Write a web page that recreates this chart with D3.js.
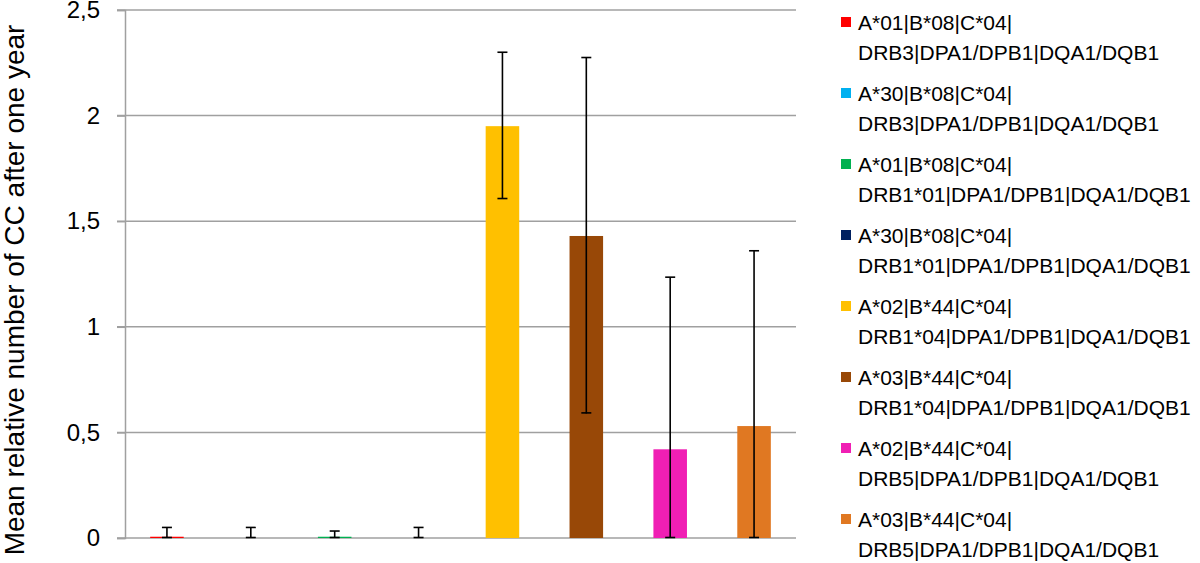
<!DOCTYPE html>
<html>
<head>
<meta charset="utf-8">
<script src="https://cdn.jsdelivr.net/npm/d3@7"></script>
<style>
  body { margin: 0; background: #fff; }
  svg { font-family: "Liberation Sans", Arial, sans-serif; }
</style>
</head>
<body>
<div id="chart"></div>
<script>
// chart data
var groups = [
  ["A*01|B*08|C*04|", "DRB3|DPA1/DPB1|DQA1/DQB1"],
  ["A*30|B*08|C*04|", "DRB3|DPA1/DPB1|DQA1/DQB1"],
  ["A*01|B*08|C*04|", "DRB1*01|DPA1/DPB1|DQA1/DQB1"],
  ["A*30|B*08|C*04|", "DRB1*01|DPA1/DPB1|DQA1/DQB1"],
  ["A*02|B*44|C*04|", "DRB1*04|DPA1/DPB1|DQA1/DQB1"],
  ["A*03|B*44|C*04|", "DRB1*04|DPA1/DPB1|DQA1/DQB1"],
  ["A*02|B*44|C*04|", "DRB5|DPA1/DPB1|DQA1/DQB1"],
  ["A*03|B*44|C*04|", "DRB5|DPA1/DPB1|DQA1/DQB1"]
];
var means = [0.006, 0, 0.006, 0, 1.95, 1.43, 0.42, 0.53];
var errUpper = [0.05, 0.05, 0.033, 0.05, 2.30, 2.275, 1.235, 1.36];
var errLower = [0, 0, 0, 0, 1.605, 0.59, 0, 0];
var colors = ["#ff0000", "#00b0f0", "#00b050", "#002060", "#ffc000", "#984807", "#f01fb4", "#e07822"];
var yTicks = [0, 0.5, 1, 1.5, 2, 2.5];
var yTitle = "Mean relative number of CC after one year";

var width = 1200, height = 563;
var svg = d3.select("#chart").append("svg")
    .attr("width", width)
    .attr("height", height);

var x = d3.scaleBand()
    .domain(d3.range(groups.length))
    .range([125, 796])
    .paddingInner(0.6)
    .paddingOuter(0.3);

var y = d3.scaleLinear()
    .domain([0, 2.5])
    .range([538, 10]);

var fmt = function (d) { return String(d).replace(".", ","); };

// gridlines
svg.append("g")
  .selectAll("line")
  .data(yTicks.filter(function (d) { return d > 0; }))
  .enter().append("line")
    .attr("x1", 117).attr("x2", 796)
    .attr("y1", function (d) { return y(d); })
    .attr("y2", function (d) { return y(d); })
    .attr("stroke", "#a0a0a0")
    .attr("stroke-width", 1.5);

// y axis
var yAxis = svg.append("g")
    .attr("transform", "translate(125,0)")
    .call(d3.axisLeft(y).tickValues(yTicks).tickFormat(fmt).tickSize(8).tickPadding(17));
yAxis.select(".domain").attr("stroke", "#a0a0a0").attr("stroke-width", 1.5);
yAxis.selectAll(".tick line").attr("stroke", "#a0a0a0").attr("stroke-width", 1.5);
yAxis.selectAll(".tick text")
    .attr("font-size", 24)
    .attr("font-family", "Liberation Sans, Arial, sans-serif")
    .attr("fill", "#000");

// baseline
svg.append("line")
    .attr("x1", 117).attr("x2", 796)
    .attr("y1", y(0)).attr("y2", y(0))
    .attr("stroke", "#a0a0a0")
    .attr("stroke-width", 1.5);

// bars
svg.append("g")
  .selectAll("rect")
  .data(means)
  .enter().append("rect")
    .attr("x", function (d, i) { return x(i); })
    .attr("width", x.bandwidth())
    .attr("y", function (d) { return y(d); })
    .attr("height", function (d) { return y(0) - y(d); })
    .attr("fill", function (d, i) { return colors[i]; });

// error bars
var eb = svg.append("g")
  .selectAll("g")
  .data(means)
  .enter().append("g")
    .attr("stroke", "#000")
    .attr("stroke-width", 1.6);
var cx = function (i) { return x(i) + x.bandwidth() / 2; };
eb.append("line")
    .attr("x1", function (d, i) { return cx(i); })
    .attr("x2", function (d, i) { return cx(i); })
    .attr("y1", function (d, i) { return y(errUpper[i]); })
    .attr("y2", function (d, i) { return y(errLower[i]); });
eb.append("line")
    .attr("x1", function (d, i) { return cx(i) - 5; })
    .attr("x2", function (d, i) { return cx(i) + 5; })
    .attr("y1", function (d, i) { return y(errUpper[i]); })
    .attr("y2", function (d, i) { return y(errUpper[i]); });
eb.append("line")
    .attr("x1", function (d, i) { return cx(i) - 5; })
    .attr("x2", function (d, i) { return cx(i) + 5; })
    .attr("y1", function (d, i) { return y(errLower[i]) - 0.5; })
    .attr("y2", function (d, i) { return y(errLower[i]) - 0.5; });

// y title
svg.append("text")
    .attr("transform", "translate(24,290) rotate(-90)")
    .attr("text-anchor", "middle")
    .attr("font-size", 28)
    .attr("fill", "#000")
    .text(yTitle);

// legend
var legend = svg.append("g")
  .selectAll("g")
  .data(groups)
  .enter().append("g")
    .attr("transform", function (d, i) { return "translate(841," + (22 + i * 71) + ")"; });
legend.append("rect")
    .attr("x", 0).attr("y", -5)
    .attr("width", 10).attr("height", 10)
    .attr("fill", function (d, i) { return colors[i]; });
var lt = legend.append("text")
    .attr("font-size", 21)
    .attr("fill", "#000");
lt.append("tspan")
    .attr("x", 17).attr("y", 7.5)
    .text(function (d) { return d[0]; });
lt.append("tspan")
    .attr("x", 17).attr("y", 37.5)
    .text(function (d) { return d[1]; });
</script>
</body>
</html>
